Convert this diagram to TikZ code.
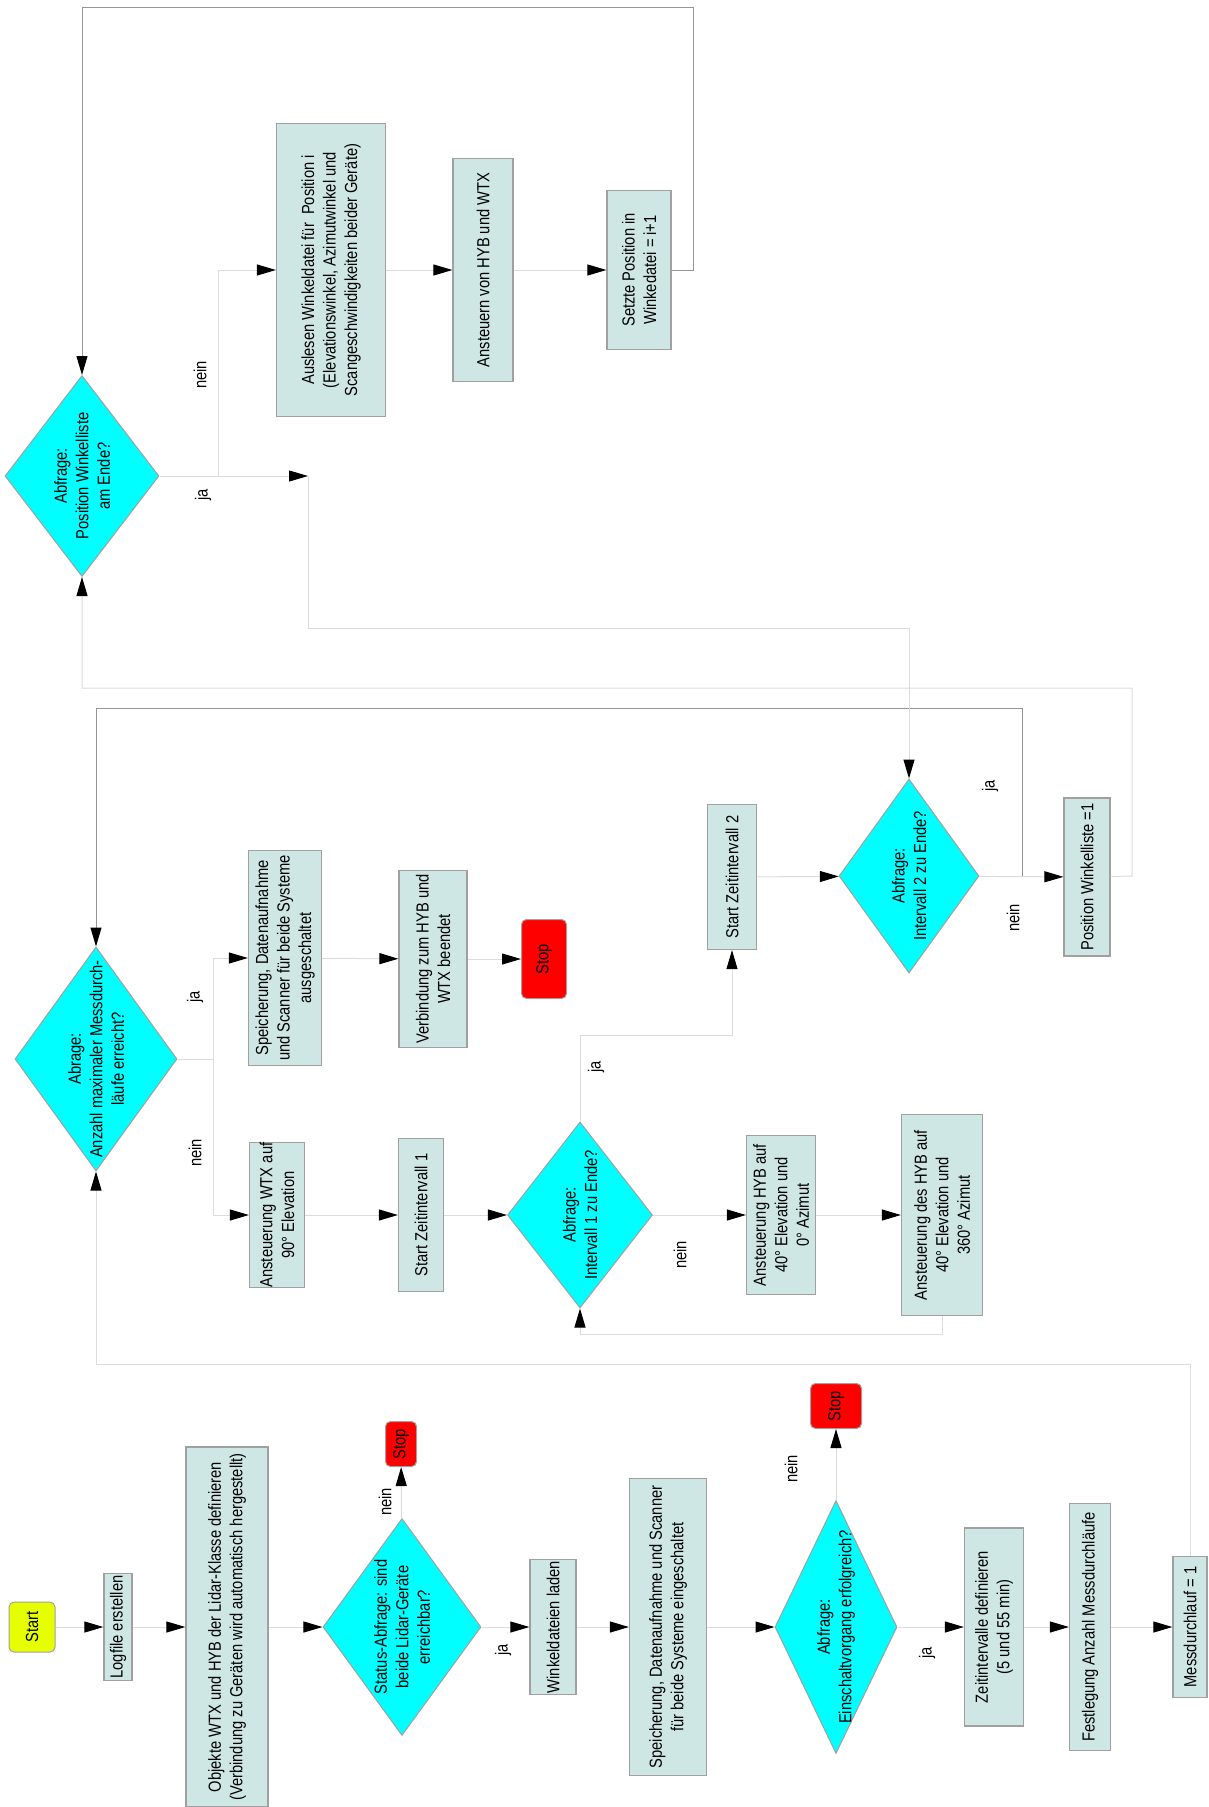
\documentclass[tikz,border=0pt]{standalone}
\usepackage{fontspec}
\setmainfont{Liberation Sans}[FakeStretch=0.84]
\usetikzlibrary{shapes.geometric,arrows.meta}

\definecolor{boxfill}{RGB}{207,231,228}
\definecolor{diafill}{RGB}{0,255,255}
\definecolor{stopred}{RGB}{255,0,0}
\definecolor{startyel}{RGB}{230,255,0}
\definecolor{edgegray}{RGB}{160,160,160}
\definecolor{linelight}{RGB}{220,220,220}
\definecolor{linedark}{RGB}{150,150,150}

\tikzset{
	box/.style={draw=edgegray, line width=1.2pt, fill=boxfill, rotate=90, align=center, inner sep=0pt},
	dia/.style={diamond, draw=edgegray, line width=1pt, fill=diafill, inner sep=0pt},
	diatext/.style={rotate=90, align=center, inner sep=0pt},
	stopbox/.style={draw=edgegray, line width=1pt, fill=stopred, rounded corners=5pt, rotate=90, inner sep=0pt},
	lab/.style={rotate=90, inner sep=0pt},
	arr/.style={draw=linelight, line width=1pt, -{Triangle[length=19pt,width=11pt,color=black]}},
	arrdark/.style={arr, draw=linedark}
}

\begin{document}
\begin{tikzpicture}[x=1pt,y=-1pt,font=\fontsize{17.5}{21.5}\selectfont]
	\useasboundingbox (0,0) rectangle (1208,1807);

	\node[stopbox, fill=startyel, minimum width=50, minimum height=46] (start) at (32,1627) {Start};
	\node[box, minimum width=107, minimum height=28] (logfile) at (118,1627) {Logfile erstellen};
	\node[box, minimum width=360, minimum height=82] (objekte) at (227,1627) {Objekte WTX und HYB der Lidar-Klasse definieren\\(Verbindung zu Geräten wird automatisch hergestellt)};
	\node[dia, minimum width=158, minimum height=217] (status) at (402,1627) {};
	\node[diatext] (status-t) at (status) {Status-Abfrage: sind\\beide Lidar-Geräte\\erreichbar?};
	\node[stopbox, minimum width=45, minimum height=31] (stopa) at (401,1444) {Stop};
	\node[box, minimum width=135, minimum height=46] (winkel) at (553,1627) {Winkeldateien laden};
	\node[box, minimum width=297, minimum height=77] (speichein) at (668,1627) {Speicherung, Datenaufnahme und Scanner\\für beide Systeme eingeschaltet};
	\node[dia, minimum width=122, minimum height=253] (einschalt) at (836,1627) {};
	\node[diatext] (einschalt-t) at (einschalt) {Abfrage:\\Einschaltvorgang erfolgreich?};
	\node[stopbox, minimum width=45, minimum height=51] (stopb) at (836,1406) {Stop};
	\node[box, minimum width=198, minimum height=59] (zeit) at (994,1627) {Zeitintervalle definieren\\(5 und 55 min)};
	\node[box, minimum width=247, minimum height=41] (festleg) at (1090,1627) {Festlegung Anzahl Messdurchläufe};
	\node[box, minimum width=141, minimum height=34] (messd) at (1190,1627) {Messdurchlauf = 1};

	\node[dia, minimum width=162, minimum height=224] (anzahl) at (96,1059) {};
	\node[diatext] (anzahl-t) at (anzahl) {Abrage:\\Anzahl maximaler Messdurch-\\läufe erreicht?};
	\node[box, minimum width=215, minimum height=73] (speichaus) at (285,958) {Speicherung, Datenaufnahme\\und Scanner für beide Systeme\\ausgeschaltet};
	\node[box, minimum width=145, minimum height=55] (wtx) at (277,1215) {Ansteuerung WTX auf\\90° Elevation};
	\node[box, minimum width=177, minimum height=68] (verbind) at (433,959) {Verbindung zum HYB und\\WTX beendet};
	\node[stopbox, minimum width=79, minimum height=45] (stopc) at (544,959) {Stop};
	\node[box, minimum width=153, minimum height=45] (zeitA) at (421,1215) {Start Zeitintervall 1};
	\node[dia, minimum width=145, minimum height=186] (intA) at (580,1215) {};
	\node[diatext] (intA-t) at (intA) {Abfrage:\\Intervall 1 zu Ende?};
	\node[box, minimum width=159, minimum height=69] (hybA) at (781,1215) {Ansteuerung HYB auf\\40° Elevation und\\0° Azimut};
	\node[box, minimum width=201, minimum height=81] (hybB) at (942,1215) {Ansteuerung des HYB auf\\40° Elevation und\\360° Azimut};
	\node[box, minimum width=145, minimum height=49] (zeitB) at (732,877) {Start Zeitintervall 2};
	\node[dia, minimum width=140, minimum height=194] (intB) at (909,876) {};
	\node[diatext] (intB-t) at (intB) {Abfrage:\\Intervall 2 zu Ende?};
	\node[box, minimum width=158, minimum height=46] (poseins) at (1087,877) {Position Winkelliste =1};

	\node[dia, minimum width=154, minimum height=201] (posende) at (82,476) {};
	\node[diatext] (posende-t) at (posende) {Abfrage:\\Position Winkelliste\\am Ende?};
	\node[box, minimum width=293, minimum height=109] (auslesen) at (331,270) {Auslesen Winkeldatei für~ Position i\\(Elevationswinkel, Azimutwinkel und\\Scangeschwindigkeiten beider Geräte)};
	\node[box, minimum width=223, minimum height=60] (ansteuern) at (483,270) {Ansteuern von HYB und WTX};
	\node[box, minimum width=159, minimum height=64] (setzte) at (639,270) {Setzte Position in\\Winkedatei = i+1};

	\node[lab] (neinA) at (385,1502) {nein};
	\node[lab] (jaA) at (503,1650) {ja};
	\node[lab] (neinB) at (791,1469) {nein};
	\node[lab] (jaB) at (927,1653) {ja};
	\node[lab] (jaC) at (195,997) {ja};
	\node[lab] (neinC) at (195,1153) {nein};
	\node[lab] (jaD) at (596,1067) {ja};
	\node[lab] (neinD) at (680,1255) {nein};
	\node[lab] (jaE) at (990,786) {ja};
	\node[lab] (neinE) at (1013,918) {nein};
	\node[lab] (neinF) at (200,375) {nein};
	\node[lab] (jaF) at (203,495) {ja};

	\coordinate (loopA) at (96,1364);
	\coordinate (splitA) at (213,1059);
	\coordinate (loopB) at (580,1334);
	\coordinate (upA) at (580,1035);
	\coordinate (jaknick) at (1022,876);
	\coordinate (loopC) at (96,708);
	\coordinate (rightA) at (1132,876);
	\coordinate (loopD) at (82,688);
	\coordinate (splitB) at (218,476);
	\coordinate (jaspitze) at (308,476);
	\coordinate (jaunten) at (308,628);
	\coordinate (rightB) at (693,270);
	\coordinate (loopE) at (82,7);

	\draw[arr] (start) -- (logfile);
	\draw[arr] (logfile) -- (objekte);
	\draw[arr] (objekte) -- (status);
	\draw[arr] (status) -- (winkel);
	\draw[arr] (status) -- (stopa);
	\draw[arr] (winkel) -- (speichein);
	\draw[arr] (speichein) -- (einschalt);
	\draw[arr] (einschalt) -- (zeit);
	\draw[arr] (einschalt) -- (stopb);
	\draw[arr] (zeit) -- (festleg);
	\draw[arr] (festleg) -- (messd);
	\draw[arr] (messd) |- (loopA) -- (anzahl);

	\draw[arr] (anzahl) -- (splitA) |- (speichaus);
	\draw[arr] (splitA) |- (wtx);
	\draw[arr] (speichaus) -- (verbind);
	\draw[arr] (verbind) -- (stopc);
	\draw[arr] (wtx) -- (zeitA);
	\draw[arr] (zeitA) -- (intA);
	\draw[arr] (intA) -- (hybA);
	\draw[arr] (hybA) -- (hybB);
	\draw[arr] (hybB) |- (loopB) -- (intA);
	\draw[arr] (intA) -- (upA) -| (zeitB);
	\draw[arr] (zeitB) -- (intB);
	\draw[arr] (intB) -- (poseins);
	\draw[arrdark] (jaknick) |- (loopC) -- (anzahl);
	\draw[arr] (poseins) -- (rightA) |- (loopD) -- (posende);

	\draw[arr] (posende) -- (splitB) |- (auslesen);
	\draw[arr] (splitB) -- (jaspitze);
	\draw[arr] (jaspitze) -- (jaunten) -| (intB);
	\draw[arr] (auslesen) -- (ansteuern);
	\draw[arr] (ansteuern) -- (setzte);
	\draw[arrdark] (setzte) -- (rightB) |- (loopE) -- (posende);
\end{tikzpicture}
\end{document}
